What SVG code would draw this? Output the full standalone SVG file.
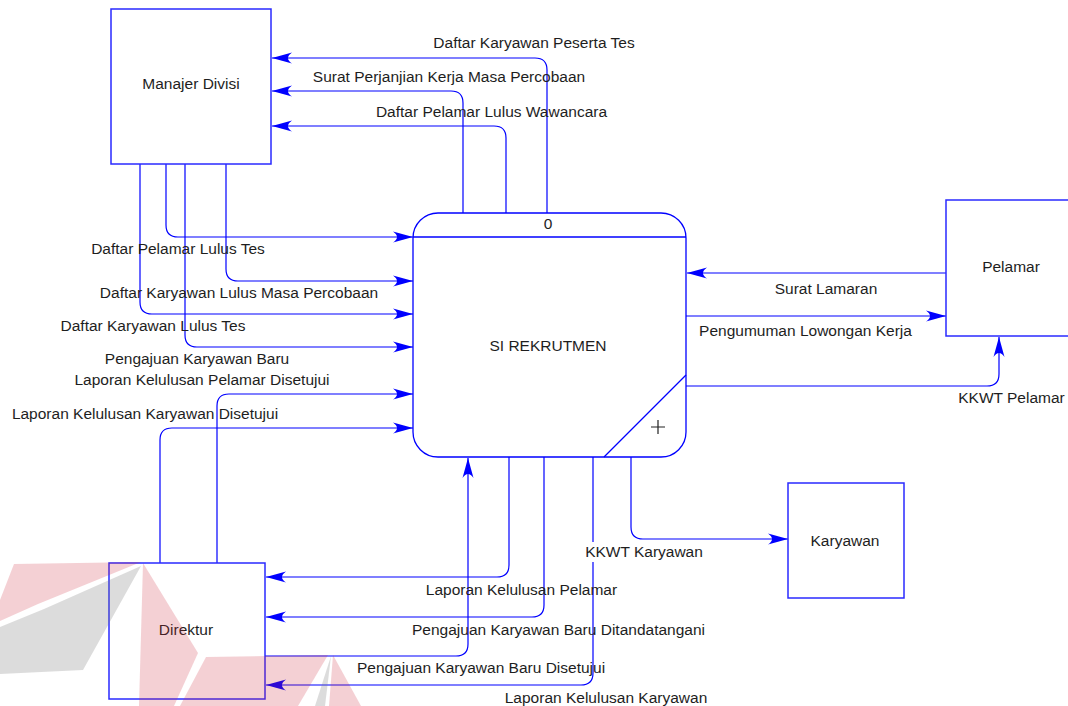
<svg xmlns="http://www.w3.org/2000/svg" width="1068" height="706" viewBox="0 0 1068 706">
<style>
text{font-family:"Liberation Sans",Arial,sans-serif;font-size:15.5px;fill:#1e1e1e;text-anchor:middle}
.box{fill:#fff;stroke:#2a2aff;stroke-width:1.5}
.flow{fill:none;stroke:#0000ff;stroke-width:1.2;marker-end:url(#arr)}
.wr{fill:#cc2a3c;opacity:0.22}
.wg{fill:#777;opacity:0.26}
</style>
<defs>
<marker id="arr" markerUnits="userSpaceOnUse" markerWidth="24" markerHeight="14" viewBox="-21 -7 22 14" refX="0" refY="0" orient="auto">
<path d="M0,0 L-20,-5.5 Q-12,0 -20,5.5 Z" fill="#0000ff"/>
</marker>
</defs>
<rect width="1068" height="706" fill="#fff"/>
<g id="connectors">
<path class="flow" d="M547,213 V70 Q547,58 535,58 H272"/>
<path class="flow" d="M463,213 V103 Q463,91 451,91 H272"/>
<path class="flow" d="M506,213 V138 Q506,126 494,126 H272"/>
<path class="flow" d="M166,164 V225 Q166,237 178,237 H413"/>
<path class="flow" d="M226,164 V269 Q226,281 238,281 H413"/>
<path class="flow" d="M140,164 V302 Q140,314 152,314 H413"/>
<path class="flow" d="M185,164 V335 Q185,347 197,347 H413"/>
<path class="flow" d="M217,563 V406 Q217,394 229,394 H413"/>
<path class="flow" d="M160,563 V440 Q160,428 172,428 H413"/>
<path class="flow" d="M265,656 H456 Q468,656 468,644 V458"/>
<path class="flow" d="M509,457 V565 Q509,577 497,577 H266"/>
<path class="flow" d="M544,457 V605 Q544,617 532,617 H266"/>
<path class="flow" d="M593,457 V673 Q593,685 581,685 H266"/>
<path class="flow" d="M631,457 V527 Q631,539 643,539 H788"/>
<path class="flow" d="M946,273 H687"/>
<path class="flow" d="M686,316 H946"/>
<path class="flow" d="M686,386 H987 Q999,386 999,374 V337"/>
</g>
<g id="labels">
<text x="534" y="48">Daftar Karyawan Peserta Tes</text>
<text x="449" y="82">Surat Perjanjian Kerja Masa Percobaan</text>
<text x="491.5" y="117">Daftar Pelamar Lulus Wawancara</text>
<text x="178" y="254">Daftar Pelamar Lulus Tes</text>
<text x="239" y="298">Daftar Karyawan Lulus Masa Percobaan</text>
<text x="153" y="331">Daftar Karyawan Lulus Tes</text>
<text x="197" y="364">Pengajuan Karyawan Baru</text>
<text x="202" y="385">Laporan Kelulusan Pelamar Disetujui</text>
<text x="145" y="419">Laporan Kelulusan Karyawan Disetujui</text>
<text x="826" y="294">Surat Lamaran</text>
<text x="805.5" y="336">Pengumuman Lowongan Kerja</text>
<text x="1011.5" y="403">KKWT Pelamar</text>
<rect x="584" y="542" width="120" height="20" fill="#fff"/>
<text x="644" y="557">KKWT Karyawan</text>
<text x="521.5" y="595">Laporan Kelulusan Pelamar</text>
<text x="558.5" y="635">Pengajuan Karyawan Baru Ditandatangani</text>
<text x="481" y="673">Pengajuan Karyawan Baru Disetujui</text>
<text x="606" y="703">Laporan Kelulusan Karyawan</text>
</g>
<g id="manajer-divisi">
<rect class="box" x="111" y="9" width="160" height="155"/>
<text x="191" y="89">Manajer Divisi</text>
</g>
<g id="pelamar">
<rect class="box" x="946" y="200" width="130" height="136"/>
<text x="1011" y="272">Pelamar</text>
</g>
<g id="karyawan">
<rect class="box" x="788" y="483" width="116" height="115"/>
<text x="845" y="546">Karyawan</text>
</g>
<g id="direktur">
<rect class="box" x="109" y="563" width="156" height="136"/>
<text x="186" y="635">Direktur</text>
</g>
<g id="process-0">
<rect x="413" y="213" width="273" height="244" rx="25" ry="25" fill="none" stroke="#0000ff" stroke-width="1.3"/>
<line x1="413" y1="237" x2="686" y2="237" stroke="#0000ff" stroke-width="1.3"/>
<line x1="686" y1="375" x2="604" y2="457" stroke="#0000ff" stroke-width="1.2"/>
<text x="548" y="229">0</text>
<text x="548" y="351">SI REKRUTMEN</text>
<path d="M651,427 H665 M658,420 V434" stroke="#222" stroke-width="1.2"/>
</g>
<g id="watermark">
<polygon class="wr" points="14,564 141,562 38,604 0,621 0,600"/>
<polygon class="wg" points="141,566 44,609 0,627 0,674 83,670"/>
<polygon class="wr" points="143,563 198,653 174,706 139,706"/>
<polygon class="wr" points="206,657 328,655 298,706 180,706"/>
<polygon class="wg" points="331,656 315,706 325,706"/>
<polygon class="wr" points="333,655 361,706 329,706"/>
</g>
</svg>
